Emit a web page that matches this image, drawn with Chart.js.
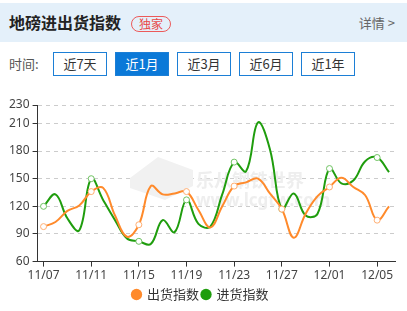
<!DOCTYPE html>
<html>
<head>
<meta charset="utf-8">
<script src="https://cdn.jsdelivr.net/npm/chart.js@4/dist/chart.umd.min.js"></script>
<style>
    body { margin: 0; width: 407px; height: 311px; background: #fff; font-family: "Noto Sans CJK SC", "Noto Sans", sans-serif; overflow: hidden; position: relative; }
    .head { position: absolute; top: 3px; left: 0; width: 407px; height: 39px; background: #e4f0fa; }
    .title { position: absolute; left: 9px; top: 8px; font-size: 16px; font-weight: bold; color: #222; line-height: 22px; }
    .badge { position: absolute; left: 131px; top: 13px; width: 38px; height: 14px; border: 1px solid #ec5a5a; border-radius: 8px; color: #e84848; font-size: 12px; line-height: 14px; text-align: center; }
    .more { position: absolute; right: 12px; top: 11px; font-size: 13px; color: #666; line-height: 18px; }
    .time { position: absolute; left: 9px; top: 55px; font-size: 13px; color: #555; line-height: 18px; }
    .btn { position: absolute; top: 52px; width: 52px; height: 22px; border: 1px solid #1c7fd6; color: #333; font-size: 13px; line-height: 22px; text-align: center; }
    .btn.on { background: #0b79d8; color: #fff; }
    .box { position: absolute; left: 0; top: 88px; width: 407px; height: 223px; }
</style>
</head>
<body>
<div class="head">
    <div class="title">地磅进出货指数</div>
    <div class="badge">独家</div>
    <div class="more">详情 &gt;</div>
</div>
<div class="time">时间:</div>
<div class="btn" style="left:53px">近7天</div>
<div class="btn on" style="left:115px">近1月</div>
<div class="btn" style="left:177px">近3月</div>
<div class="btn" style="left:239px">近6月</div>
<div class="btn" style="left:301px">近1年</div>
<div class="box"><canvas id="chart"></canvas></div>
<script>
const dates = ['11/07', '11/08', '11/09', '11/10', '11/11', '11/12', '11/13', '11/14', '11/15', '11/16',
    '11/17', '11/18', '11/19', '11/20', '11/21', '11/22', '11/23', '11/24', '11/25', '11/26',
    '11/27', '11/28', '11/29', '11/30', '12/01', '12/02', '12/03', '12/04', '12/05', '12/06'];
const outIndex = [98, 103, 115, 121, 136, 140, 110, 87, 100, 142, 133, 134, 136, 116, 97,
    120, 142, 146, 150, 134, 117, 86, 112, 131, 141, 151, 141, 132, 105, 120];
const inIndex = [120, 133, 107, 94, 150, 127, 105, 85, 82, 79, 105, 92, 127, 101, 98,
    133, 168, 158, 211, 182, 117, 134, 110, 112, 161, 145, 148, 169, 173, 157];
const yTicks = [60, 90, 120, 150, 180, 210, 230];

// faint site watermark behind the lines
const watermark = {
    id: 'watermark',
    beforeDatasetsDraw(chart) {
        const c = chart.ctx;
        c.save();
        c.fillStyle = '#f1f1f1';
        c.beginPath();
        c.moveTo(130, 90); c.lineTo(158, 69); c.lineTo(193, 82); c.lineTo(193, 98); c.lineTo(165, 112); c.lineTo(130, 100);
        c.closePath();
        c.fill();
        c.fillStyle = '#eeeeee';
        c.font = 'bold 18px "Noto Sans CJK SC"';
        c.fillText('乐从钢铁世界', 196, 92);
        c.font = 'bold 17px "Noto Sans"';
        c.fillText('www.lcgtw.com', 196, 113);
        c.restore();
    }
};

const ctx = document.getElementById('chart').getContext('2d');
new Chart(ctx, {
    type: 'line',
    data: {
        labels: dates,
        datasets: [{
            label: '出货指数',
            data: outIndex,
            borderColor: '#ff8a2b',
            backgroundColor: '#ff8a2b',
            borderWidth: 2,
            tension: 0.4,
            pointRadius: c => c.dataIndex % 4 === 0 ? 3 : 0,
            pointBackgroundColor: '#fff',
            pointBorderColor: '#ffae72',
            pointBorderWidth: 1
        }, {
            label: '进货指数',
            data: inIndex,
            borderColor: '#1f9d0d',
            backgroundColor: '#1f9d0d',
            borderWidth: 2,
            tension: 0.4,
            pointRadius: c => c.dataIndex % 4 === 0 ? 3 : 0,
            pointBackgroundColor: '#fff',
            pointBorderColor: '#6fc262',
            pointBorderWidth: 1
        }]
    },
    options: {
        responsive: true,
        maintainAspectRatio: false,
        animation: false,
        layout: { padding: { left: 6, right: 12, top: 17, bottom: 0 } },
        plugins: {
            tooltip: { enabled: false },
            legend: {
                position: 'bottom',
                labels: {
                    usePointStyle: true,
                    pointStyle: 'circle',
                    boxWidth: 8,
                    boxHeight: 8,
                    padding: 3,
                    color: '#333',
                    font: { size: 13, family: '"Noto Sans CJK SC"' },
                    generateLabels: chart => Chart.defaults.plugins.legend.labels.generateLabels(chart).map(l => {
                        l.fillStyle = chart.data.datasets[l.datasetIndex].borderColor;
                        l.strokeStyle = l.fillStyle;
                        l.lineWidth = 0;
                        return l;
                    })
                }
            }
        },
        scales: {
            x: {
                offset: true,
                grid: { display: true, drawOnChartArea: false, tickLength: 5, color: '#333',
                    lineWidth: c => c.index % 4 === 0 ? 1 : 0 },
                border: { color: '#333' },
                ticks: {
                    autoSkip: false,
                    maxRotation: 0,
                    padding: 2,
                    color: '#444',
                    font: { size: 12, family: '"Noto Sans"' },
                    callback: function (v, i) { return i % 4 === 0 ? this.getLabelForValue(v) : ''; }
                }
            },
            y: {
                min: 60,
                max: 230,
                afterBuildTicks: s => { s.ticks = yTicks.map(v => ({ value: v })); },
                grid: { color: '#cccccc', tickColor: '#333', tickLength: 5, tickBorderDash: [] },
                border: { color: '#333', dash: [4, 4] },
                ticks: {
                    padding: 3,
                    color: '#444',
                    font: { size: 12, family: '"Noto Sans"' }
                }
            }
        }
    },
    plugins: [watermark]
});
</script>
</body>
</html>
